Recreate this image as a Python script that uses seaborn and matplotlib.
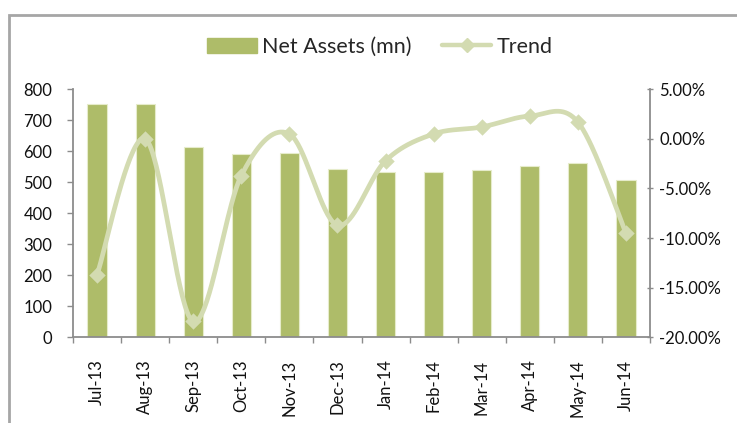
import numpy as np
import pandas as pd
import matplotlib
matplotlib.use("Agg")
import matplotlib.pyplot as plt
from matplotlib.lines import Line2D
from matplotlib.patches import Patch, Rectangle
from matplotlib.ticker import FuncFormatter, MultipleLocator, FixedLocator
import seaborn as sns

months = ["Jul-13", "Aug-13", "Sep-13", "Oct-13", "Nov-13", "Dec-13",
          "Jan-14", "Feb-14", "Mar-14", "Apr-14", "May-14", "Jun-14"]
net_assets = [752, 752, 615, 591, 595, 543, 532, 534, 540, 553, 561, 507]
trend_pct = [-13.7, 0.0, -18.4, -3.7, 0.5, -8.7, -2.2, 0.5, 1.2, 2.3, 1.7, -9.5]

BAR = "#AEBC69"
LINE = "#D3DBB1"
SPINE = "#8C8C8C"

sns.set_theme(style="white")
plt.rcParams["font.family"] = ["Lato", "DejaVu Sans"]

fig = plt.figure(figsize=(7.37, 4.23), dpi=100)
W, H = 737, 423
ax = fig.add_axes([73 / W, 1 - 337.3 / H, (650 - 73) / W, (337.3 - 89.3) / H])

df = pd.DataFrame({"month": months, "assets": net_assets})
sns.barplot(data=df, x="month", y="assets", ax=ax, color=BAR, width=0.4,
            saturation=1, edgecolor="#E6ECCB", linewidth=0.8)
ax.set_xlim(-0.5, 11.5)
ax.set_ylim(0, 800)
ax.yaxis.set_major_locator(MultipleLocator(100))
ax.set_xlabel("")
ax.set_ylabel("")

ax2 = ax.twinx()
ax2.set_ylim(-20, 5)
ax2.yaxis.set_major_locator(MultipleLocator(5))
ax2.yaxis.set_major_formatter(FuncFormatter(lambda v, p: f"{v:.2f}%"))

# Smoothed line (Bezier through the data points, Excel-style)
x = np.arange(len(trend_pct), dtype=float)
y = np.array(trend_pct, dtype=float)
xs, ys = [], []
t = np.linspace(0, 1, 40)
n = len(x)
for i in range(n - 1):
    p0 = np.array([x[i], y[i]])
    p3 = np.array([x[i + 1], y[i + 1]])
    pm = np.array([x[i - 1], y[i - 1]]) if i > 0 else p0
    pp = np.array([x[i + 2], y[i + 2]]) if i + 2 < n else p3
    c1 = p0 + (p3 - pm) / 6
    c2 = p3 - (pp - p0) / 6
    b = ((1 - t) ** 3)[:, None] * p0 + (3 * (1 - t) ** 2 * t)[:, None] * c1 \
        + (3 * (1 - t) * t ** 2)[:, None] * c2 + (t ** 3)[:, None] * p3
    xs.extend(b[:, 0]); ys.extend(b[:, 1])
ax2.plot(xs, ys, color=LINE, lw=3.4, solid_capstyle="round", zorder=3)
sns.scatterplot(x=x, y=y, ax=ax2, marker="D", s=70, color=LINE,
                edgecolor=LINE, linewidth=0, zorder=4)

# spines / ticks
for a in (ax, ax2):
    for s in a.spines.values():
        s.set_visible(False)
ax.spines["left"].set_visible(True)
ax.spines["bottom"].set_visible(True)
ax2.spines["right"].set_visible(True)
for s in (ax.spines["left"], ax.spines["bottom"], ax2.spines["right"]):
    s.set_color(SPINE)
    s.set_linewidth(1.3)

FS = 12
ax.tick_params(axis="y", which="major", left=True, direction="out", length=4,
               width=1, color=SPINE, pad=11, labelsize=FS, labelcolor="#111111")
ax.set_xticks(range(len(months)))
ax.set_xticklabels(months, rotation=90)
ax.tick_params(axis="x", which="major", bottom=False, length=0, pad=16,
               labelsize=FS, labelcolor="#111111")
ax.xaxis.set_minor_locator(FixedLocator(np.arange(-0.5, 12, 1)))
ax.tick_params(axis="x", which="minor", bottom=True, direction="out", length=4,
               width=1, color=SPINE)
ax2.tick_params(axis="y", right=True, direction="inout", length=5, width=1,
                color=SPINE, pad=4, labelsize=FS, labelcolor="#111111")
ax.grid(False); ax2.grid(False)

handles = [Patch(facecolor=BAR, edgecolor=BAR),
           Line2D([0], [0], color=LINE, lw=3.2, marker="D", markersize=7,
                  markeredgecolor=LINE)]
fig.legend(handles, ["Net Assets (mn)", "Trend"], loc="center",
           bbox_to_anchor=(380 / W, 1 - 47 / H), ncol=2, frameon=False,
           fontsize=15.5, handlelength=2.3, handletextpad=0.25, columnspacing=1.4,
           handleheight=0.7)

fig.patches.append(Rectangle((9 / W, -0.1), 1.2, 1 - 15 / H + 0.1,
                             transform=fig.transFigure, fill=False,
                             edgecolor="#A6A6A6", lw=2))

fig.savefig("out.png", dpi=100)
